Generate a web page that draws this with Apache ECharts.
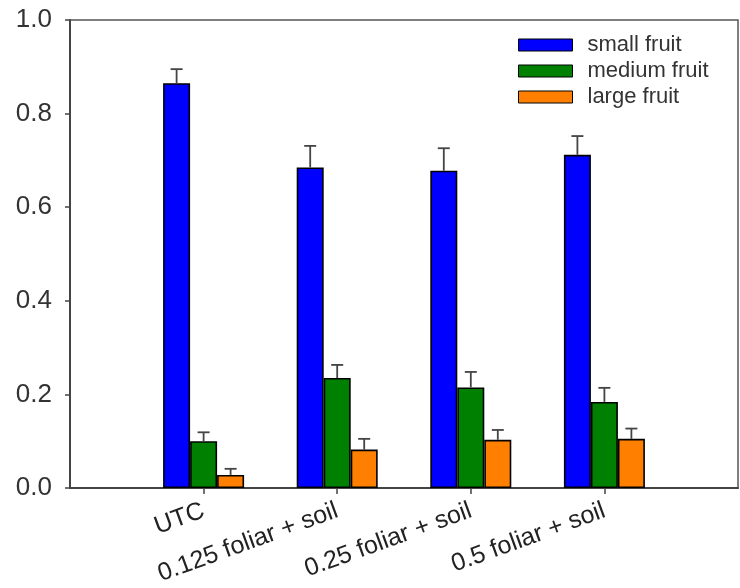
<!DOCTYPE html>
<html>
<head>
<meta charset="utf-8">
<script src="https://cdn.jsdelivr.net/npm/echarts@6/dist/echarts.min.js"></script>
<style>
  html, body { margin: 0; padding: 0; background: #fff; }
  #chart { width: 740px; height: 588px; }
</style>
</head>
<body>
<div id="chart"></div>
<script>
// Treatments and fruit-size proportions (mean + upper standard error)
const categories = ['UTC', '0.125 foliar + soil', '0.25 foliar + soil', '0.5 foliar + soil'];
const seriesNames = ['small fruit', 'medium fruit', 'large fruit'];
const smallFruit = [0.865, 0.685, 0.678, 0.712];
const smallErr = [0.030, 0.046, 0.048, 0.040];
const mediumFruit = [0.100, 0.235, 0.215, 0.184];
const mediumErr = [0.019, 0.028, 0.033, 0.030];
const largeFruit = [0.028, 0.082, 0.103, 0.105];
const largeErr = [0.013, 0.023, 0.021, 0.022];
const yTicks = [0, 0.2, 0.4, 0.6, 0.8, 1.0];

const colors = ['#0000ff', '#008000', '#ff8000'];
const BAR_W = 27;
const FONT = '"Liberation Sans", Arial, sans-serif';

// Empty slots on both ends leave room left of the first group and right of the last
const axisCats = [''].concat(categories, ['']);
const pad = arr => ['-'].concat(arr, ['-']);
const inRange = i => i >= 1 && i <= categories.length;

const means = [smallFruit, mediumFruit, largeFruit];
const errs = [smallErr, mediumErr, largeErr];

const barSeries = means.map((vals, k) => ({
  name: seriesNames[k],
  type: 'bar',
  data: pad(vals),
  barWidth: BAR_W,
  barGap: '0%',
  itemStyle: { color: colors[k], borderColor: '#000', borderWidth: 1.6 },
  z: 2
}));

// Upper error bars drawn above each bar
const errSeries = means.map((vals, k) => ({
  type: 'custom',
  data: vals.map((v, i) => [i + 1, v, v + errs[k][i]]),
  encode: { x: 0, y: [1, 2] },
  z: 3,
  silent: true,
  renderItem: function (params, api) {
    const off = (k - 1) * BAR_W;
    const base = api.coord([api.value(0), api.value(1)]);
    const top = api.coord([api.value(0), api.value(2)]);
    const x = base[0] + off;
    const cap = 6;
    const style = { stroke: '#444', lineWidth: 1.8 };
    return {
      type: 'group',
      children: [
        { type: 'line', shape: { x1: x, y1: base[1], x2: x, y2: top[1] }, style: style },
        { type: 'line', shape: { x1: x - cap, y1: top[1], x2: x + cap, y2: top[1] }, style: style }
      ]
    };
  }
}));

const chart = echarts.init(document.getElementById('chart'), null, { renderer: 'canvas' });
chart.setOption({
  backgroundColor: '#fff',
  animation: false,
  textStyle: { fontFamily: FONT },
  grid: {
    left: 70, right: 2, top: 20, bottom: 100,
    show: true, borderColor: '#555', borderWidth: 1.5, backgroundColor: 'transparent'
  },
  legend: {
    data: seriesNames,
    orient: 'vertical',
    left: 518,
    top: 34,
    padding: 0,
    itemWidth: 54,
    itemHeight: 12,
    itemGap: 4,
    icon: 'rect',
    itemStyle: { borderColor: '#000', borderWidth: 1 },
    textStyle: { fontSize: 22, color: '#333', lineHeight: 20, padding: [0, 0, 0, 10], fontFamily: FONT }
  },
  xAxis: {
    type: 'category',
    data: axisCats,
    boundaryGap: false,
    axisLine: { lineStyle: { color: '#444', width: 2 } },
    axisTick: { show: true, length: 6, interval: inRange, lineStyle: { color: '#444', width: 1.5 } },
    axisLabel: {
      interval: inRange,
      rotate: 20,
      margin: 22,
      fontSize: 25,
      color: '#222',
      fontFamily: FONT
    },
    splitLine: { show: false }
  },
  yAxis: {
    type: 'value',
    min: yTicks[0],
    max: yTicks[yTicks.length - 1],
    interval: 0.2,
    axisLine: { show: true, lineStyle: { color: '#444', width: 2 } },
    axisTick: { show: true, length: 5, lineStyle: { color: '#444', width: 1.5 } },
    axisLabel: {
      margin: 18,
      fontSize: 26,
      color: '#333',
      fontFamily: FONT,
      formatter: v => v.toFixed(1)
    },
    splitLine: { show: false }
  },
  series: barSeries.concat(errSeries)
});
</script>
</body>
</html>
